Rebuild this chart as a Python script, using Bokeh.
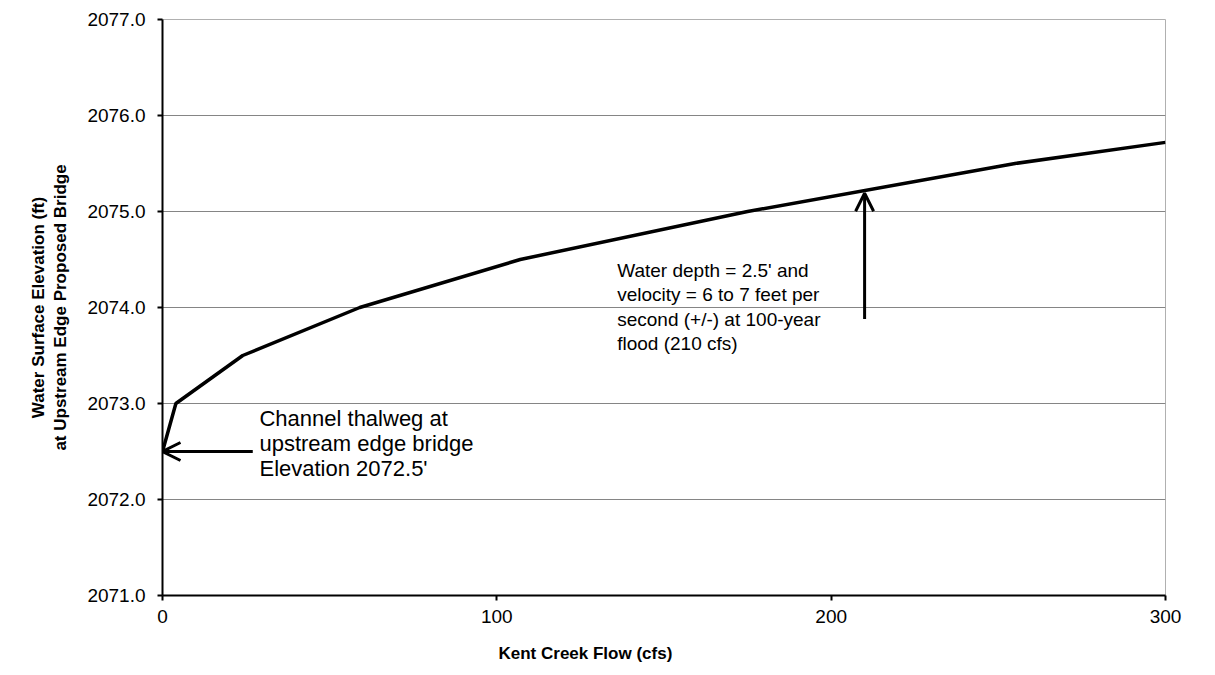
from bokeh.plotting import figure
from bokeh.models import Range1d, Label, Arrow, OpenHead, Title, FixedTicker, NumeralTickFormatter
from bokeh.embed import file_html
from bokeh.resources import INLINE

# data
flow_cfs = [0, 4, 24, 59, 107, 175, 255, 300]
elevation_ft = [2072.5, 2073.0, 2073.5, 2074.0, 2074.5, 2075.0, 2075.5, 2075.72]
x_ticks = [0, 100, 200, 300]
y_ticks = [2071, 2072, 2073, 2074, 2075, 2076, 2077]

thalweg_flow = 0
thalweg_elev = 2072.5
flood_flow = 210
flood_elev = 2075.19

FONT = "Liberation Sans"

p = figure(width=1200, height=673, frame_width=1003, frame_height=576,
           min_border_left=162, min_border_top=19, min_border_right=35, min_border_bottom=78,
           x_range=Range1d(0, 300), y_range=Range1d(2071, 2077),
           output_backend="svg", toolbar_location=None)

p.line(flow_cfs, elevation_ft, line_color="black", line_width=3.5)

p.outline_line_color = "#b0b0b0"
p.outline_line_width = 1
p.xgrid.grid_line_color = None
p.ygrid.grid_line_color = "#858585"
p.ygrid.grid_line_width = 1

p.xaxis.ticker = FixedTicker(ticks=x_ticks)
p.yaxis.ticker = FixedTicker(ticks=y_ticks)
p.yaxis.formatter = NumeralTickFormatter(format="0.0")
for ax in (p.xaxis, p.yaxis):
    ax.axis_line_color = "black"
    ax.axis_line_width = 2
    ax.major_tick_line_color = "black"
    ax.major_tick_line_width = 2
    ax.major_tick_out = 5
    ax.major_tick_in = 0
    ax.minor_tick_line_color = None
    ax.major_label_text_font = FONT
    ax.major_label_text_font_size = "19px"
    ax.major_label_text_color = "black"
p.xaxis.major_label_standoff = 9
p.yaxis.major_label_standoff = 12

p.yaxis.axis_label = "Water Surface Elevation (ft)\nat Upstream Edge Proposed Bridge"
p.yaxis.axis_label_text_font = FONT
p.yaxis.axis_label_text_font_size = "17px"
p.yaxis.axis_label_text_font_style = "bold"
p.yaxis.axis_label_text_color = "black"
p.yaxis.axis_label_standoff = 14

xt = Title(text="Kent Creek Flow (cfs)", align="left", offset=336,
           text_font=FONT, text_font_size="17px", text_font_style="bold",
           text_color="black", standoff=33)
p.add_layout(xt, "below")

# annotations
p.add_layout(Arrow(end=OpenHead(size=18, line_width=3, line_color="black"),
                   x_start=27, y_start=thalweg_elev, x_end=thalweg_flow, y_end=thalweg_elev,
                   line_width=3, line_color="black"))
p.add_layout(Arrow(end=OpenHead(size=18, line_width=3, line_color="black"),
                   x_start=flood_flow, y_start=2073.88, x_end=flood_flow, y_end=flood_elev,
                   line_width=3, line_color="black"))

p.add_layout(Label(x=29, y=2072.97,
                   text="Channel thalweg at\nupstream edge bridge\nElevation 2072.5'",
                   text_font=FONT, text_font_size="22px", text_color="black",
                   text_baseline="top", text_align="left", text_line_height=1.0))
p.add_layout(Label(x=136, y=2074.5,
                   text="Water depth = 2.5' and\nvelocity = 6 to 7 feet per\nsecond (+/-) at 100-year\nflood (210 cfs)",
                   text_font=FONT, text_font_size="19px", text_color="black",
                   text_baseline="top", text_align="left", text_line_height=1.17))

open("out.html", "w").write(file_html(p, INLINE))
